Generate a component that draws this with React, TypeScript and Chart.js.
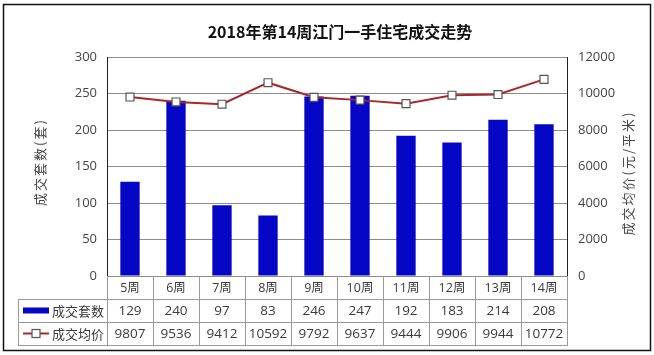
import React, { useEffect, useRef } from 'react';
import { Chart, registerables } from 'chart.js';

Chart.register(...registerables);

const chartTitle = '2018年第14周江门一手住宅成交走势';
const weeks = ['5周', '6周', '7周', '8周', '9周', '10周', '11周', '12周', '13周', '14周'];
const volumeName = '成交套数';
const priceName = '成交均价';
const volumes = [129, 240, 97, 83, 246, 247, 192, 183, 214, 208];
const prices = [9807, 9536, 9412, 10592, 9792, 9637, 9444, 9906, 9944, 10772];
const leftAxisTitle = '成交套数(套)';
const rightAxisTitle = '成交均价(元/平米)';
const leftRange = [0, 300, 50];
const rightRange = [0, 12000, 2000];

const BAR_COLOR = '#0606C6';
const LINE_COLOR = '#A8282A';
const CJK = '"Noto Sans CJK SC", "Open Sans", sans-serif';
const NUM = '"Open Sans", "Noto Sans CJK SC", sans-serif';

const decor = {
  id: 'decor',
  afterDraw(chart: any) {
    const ctx = chart.ctx as CanvasRenderingContext2D;
    const { left, right, bottom } = chart.chartArea;
    const xs = chart.scales.x;
    const n = weeks.length;
    const colW = (right - left) / n;
    const rowH = 23;
    const tableLeft = 18;
    const r0 = bottom;
    const r1 = r0 + rowH;
    const r2 = r1 + rowH;
    const r3 = r2 + rowH;
    ctx.save();

    // outer frame
    ctx.strokeStyle = '#111';
    ctx.lineWidth = 1.5;
    ctx.strokeRect(3.5, 4.5, 647, 346);

    // table grid
    ctx.strokeStyle = '#9a9a9a';
    ctx.lineWidth = 1;
    ctx.beginPath();
    [r1, r2, r3].forEach((y) => {
      ctx.moveTo(tableLeft, y + 0.5);
      ctx.lineTo(right + 0.5, y + 0.5);
    });
    ctx.moveTo(tableLeft + 0.5, r1);
    ctx.lineTo(tableLeft + 0.5, r3 + 1);
    for (let i = 0; i <= n; i++) {
      const xx = Math.round(left + i * colW) + 0.5;
      ctx.moveTo(xx, r0);
      ctx.lineTo(xx, r3 + 1);
    }
    ctx.stroke();

    // table text
    ctx.fillStyle = '#3a3a3a';
    ctx.textAlign = 'center';
    ctx.textBaseline = 'middle';
    weeks.forEach((w, i) => {
      const cx = xs.getPixelForValue(i);
      ctx.font = '12.5px ' + NUM;
      ctx.fillText(w, cx, (r0 + r1) / 2 + 1);
      ctx.font = '13.5px ' + NUM;
      ctx.fillText(String(volumes[i]), cx, (r1 + r2) / 2 + 1);
      ctx.fillText(String(prices[i]), cx, (r2 + r3) / 2 + 1);
    });

    // legend cells
    const sx0 = 23;
    const sx1 = 49;
    const yb = (r1 + r2) / 2;
    const yl = (r2 + r3) / 2;
    ctx.fillStyle = BAR_COLOR;
    ctx.fillRect(sx0, yb - 3, sx1 - sx0, 6);
    ctx.strokeStyle = LINE_COLOR;
    ctx.lineWidth = 2;
    ctx.beginPath();
    ctx.moveTo(sx0, yl);
    ctx.lineTo(sx1, yl);
    ctx.stroke();
    ctx.fillStyle = '#fff';
    ctx.strokeStyle = '#555';
    ctx.lineWidth = 1.2;
    ctx.fillRect(32, yl - 4, 8, 8);
    ctx.strokeRect(32, yl - 4, 8, 8);
    ctx.fillStyle = '#3a3a3a';
    ctx.textAlign = 'left';
    ctx.font = '13px ' + CJK;
    ctx.fillText(volumeName, 52, yb + 1);
    ctx.fillText(priceName, 52, yl + 1);

    // title
    ctx.fillStyle = '#111';
    ctx.textAlign = 'center';
    ctx.font = 'bold 16px ' + CJK;
    ctx.fillText(chartTitle, 340, 32);

    // axis titles
    ctx.fillStyle = '#444';
    ctx.font = '13px ' + CJK;
    (ctx as any).letterSpacing = '2px';
    ctx.save();
    ctx.translate(40, 162);
    ctx.rotate(-Math.PI / 2);
    ctx.fillText(leftAxisTitle, 0, 0);
    ctx.restore();
    ctx.save();
    ctx.translate(628, 173);
    ctx.rotate(-Math.PI / 2);
    ctx.fillText(rightAxisTitle, 0, 0);
    ctx.restore();
    (ctx as any).letterSpacing = '0px';

    ctx.restore();
  },
};

const whiteBg = {
  id: 'whiteBg',
  beforeDraw(chart: any) {
    const ctx = chart.ctx;
    ctx.save();
    ctx.fillStyle = '#fff';
    ctx.fillRect(0, 0, chart.width, chart.height);
    ctx.restore();
  },
};

export default function App() {
  const ref = useRef<HTMLCanvasElement>(null);
  useEffect(() => {
    if (!ref.current) return;
    const chart = new Chart(ref.current, {
      type: 'bar',
      data: {
        labels: weeks,
        datasets: [
          {
            type: 'line',
            label: priceName,
            data: prices,
            yAxisID: 'y1',
            borderColor: LINE_COLOR,
            borderWidth: 2,
            backgroundColor: '#fff',
            pointStyle: 'rect',
            pointRadius: 5.6,
            pointBorderColor: '#555',
            pointBorderWidth: 1.2,
            pointBackgroundColor: '#fff',
            tension: 0,
            order: 0,
          } as any,
          {
            type: 'bar',
            label: volumeName,
            data: volumes,
            yAxisID: 'y',
            backgroundColor: BAR_COLOR,
            borderWidth: 0,
            categoryPercentage: 1,
            barPercentage: 0.42,
            order: 1,
          },
        ],
      },
      options: {
        responsive: false,
        animation: false,
        layout: { padding: { top: 57, bottom: 79, left: 0, right: 0 } },
        plugins: {
          legend: { display: false },
          title: { display: false },
          tooltip: { enabled: false },
        },
        scales: {
          x: { display: false },
          y: {
            position: 'left',
            min: leftRange[0],
            max: leftRange[1],
            ticks: {
              stepSize: leftRange[2],
              padding: 10,
              color: '#444',
              font: { family: NUM, size: 13 },
              callback: (v: any) => String(v),
            },
            grid: { color: '#8c8c8c', drawTicks: false },
            border: { display: true, color: '#222', width: 1 },
            afterFit(scale: any) {
              scale.width = 107;
            },
          },
          y1: {
            position: 'right',
            min: rightRange[0],
            max: rightRange[1],
            ticks: {
              stepSize: rightRange[2],
              padding: 11,
              color: '#444',
              font: { family: NUM, size: 13 },
              callback: (v: any) => String(v),
            },
            grid: { drawOnChartArea: false, drawTicks: false },
            border: { display: true, color: '#222', width: 1 },
            afterFit(scale: any) {
              scale.width = 87;
            },
          },
        },
      },
      plugins: [whiteBg, decor],
    });
    return () => chart.destroy();
  }, []);
  return (
    <div style={{ position: 'absolute', left: 0, top: 0, width: 654, height: 355, background: '#fff' }}>
      <canvas ref={ref} width={654} height={355} style={{ width: 654, height: 355, display: 'block' }} />
    </div>
  );
}
